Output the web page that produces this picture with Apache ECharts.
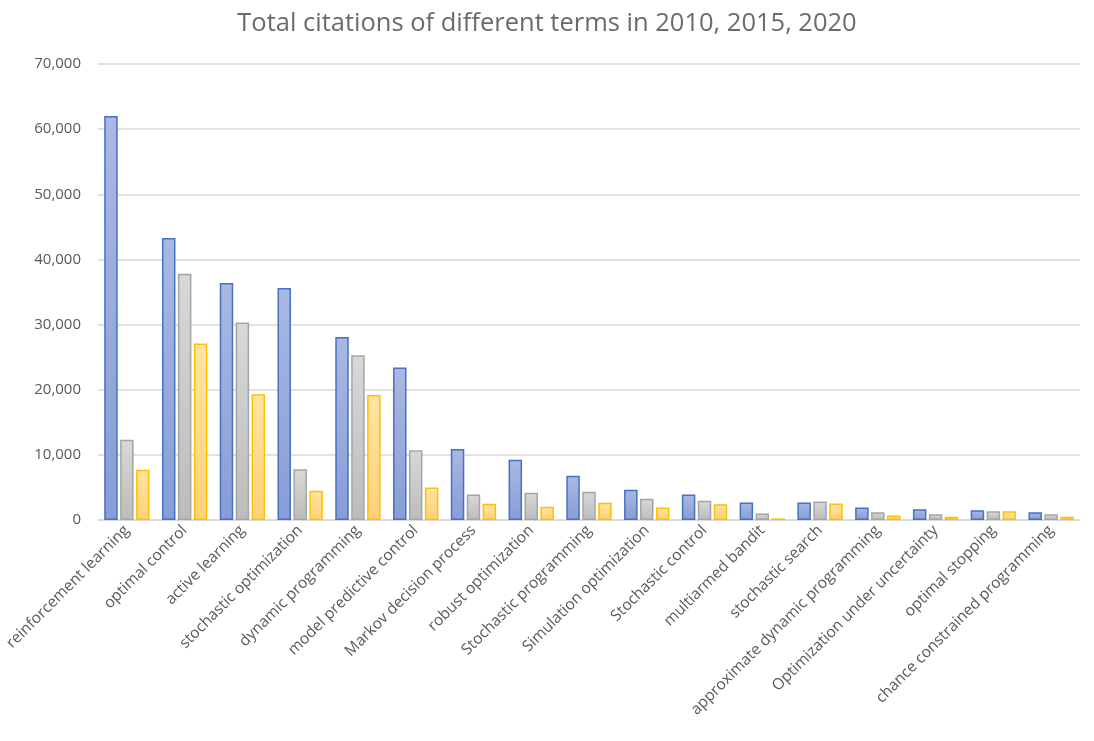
<!DOCTYPE html>
<html>
<head>
<meta charset="utf-8">
<script src="https://cdn.jsdelivr.net/npm/echarts@6/dist/echarts.min.js"></script>
<style>
html, body { margin: 0; padding: 0; background: #fff; }
#chart { width: 1094px; height: 741px; }
</style>
</head>
<body>
<div id="chart"></div>
<script>
var terms = ['reinforcement learning', 'optimal control', 'active learning', 'stochastic optimization',
	'dynamic programming', 'model predictive control', 'Markov decision process', 'robust optimization',
	'Stochastic programming', 'Simulation optimization', 'Stochastic control', 'multiarmed bandit',
	'stochastic search', 'approximate dynamic programming', 'Optimization under uncertainty',
	'optimal stopping', 'chance constrained programming'];
var blueVals = [62000, 43300, 36400, 35600, 28100, 23400, 10900, 9250, 6800, 4650, 3900, 2700, 2700, 1900, 1650, 1500, 1180];
var grayVals = [12300, 37800, 30300, 7800, 25300, 10700, 3900, 4200, 4350, 3270, 2950, 1000, 2850, 1200, 870, 1330, 870];
var yellowVals = [7700, 27100, 19300, 4500, 19200, 5000, 2500, 2050, 2650, 1900, 2400, 250, 2550, 700, 500, 1330, 500];

var grad = function(top, bottom) {
	return new echarts.graphic.LinearGradient(0, 0, 0, 1, [
		{ offset: 0, color: top },
		{ offset: 1, color: bottom }
	]);
};

var makeSeries = function(name, data, top, bottom, border) {
	return {
		name: name,
		type: 'bar',
		data: data,
		barWidth: 13.5,
		barGap: '18%',
		itemStyle: {
			color: grad(top, bottom),
			borderColor: border,
			borderWidth: 1.5
		}
	};
};

var option = {
	animation: false,
	title: {
		text: 'Total citations of different terms in 2010, 2015, 2020',
		left: 'center',
		top: 6,
		textStyle: {
			fontFamily: 'Open Sans',
			fontSize: 25.5,
			fontWeight: 'normal',
			color: '#6b6b6b'
		}
	},
	grid: {
		left: 98,
		right: 14,
		top: 64,
		bottom: 221
	},
	xAxis: [{
		type: 'category',
		data: terms,
		axisLine: { lineStyle: { color: '#d9d9d9', width: 1.5 } },
		axisTick: { show: false },
		axisLabel: {
			interval: 0,
			rotate: 45,
			margin: 8,
			fontFamily: 'Open Sans',
			fontSize: 15.5,
			color: '#595959'
		}
	}],
	yAxis: [{
		type: 'value',
		min: 0,
		max: 70000,
		interval: 10000,
		axisLine: { show: false },
		axisTick: { show: false },
		splitLine: { lineStyle: { color: '#d9d9d9', width: 1.5 } },
		axisLabel: {
			margin: 17,
			fontFamily: 'Open Sans',
			fontSize: 15,
			color: '#595959',
			formatter: function(v) { return v.toLocaleString('en-US'); }
		}
	}],
	series: [
		makeSeries('2010', blueVals, '#aab8e2', '#889dd6', '#4472c4'),
		makeSeries('2015', grayVals, '#d8d8d8', '#bcbcbc', '#a5a5a5'),
		makeSeries('2020', yellowVals, '#ffe4a0', '#ffd178', '#ffc000')
	]
};

var barChart = echarts.init(document.getElementById('chart'));
barChart.setOption(option);
</script>
</body>
</html>
